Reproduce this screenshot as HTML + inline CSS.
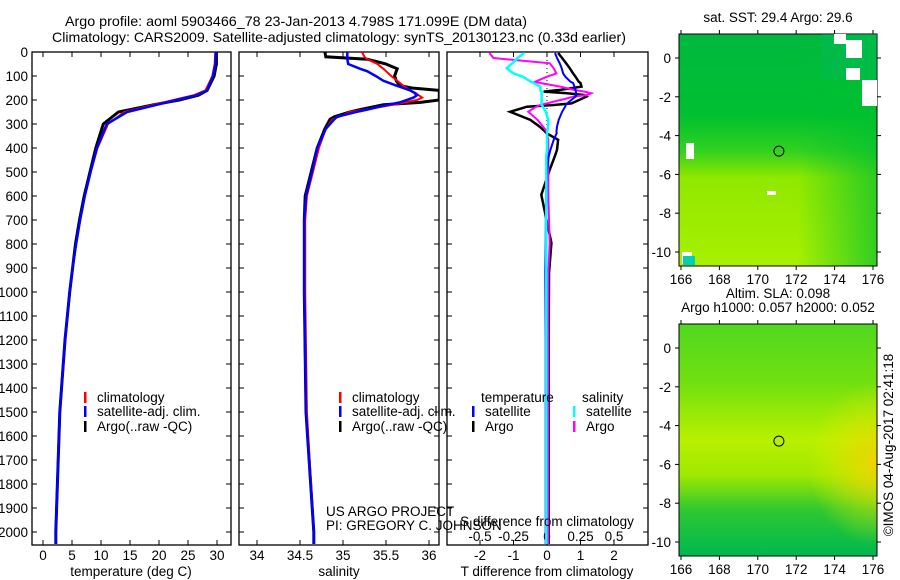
<!DOCTYPE html>
<html><head><meta charset="utf-8"><style>
body{margin:0;background:#fff;}
svg{display:block;font-family:"Liberation Sans",sans-serif;}
</style></head><body>
<svg id="c" width="900" height="580">
<defs>
<linearGradient id="sstg" x1="0" y1="0" x2="0" y2="1">
<stop offset="0" stop-color="#00b840"/><stop offset="0.35" stop-color="#00c030"/><stop offset="0.5" stop-color="#30d020"/><stop offset="0.62" stop-color="#90e800"/><stop offset="1" stop-color="#a8f000"/></linearGradient>
<linearGradient id="sstr" x1="0" y1="0" x2="1" y2="0">
<stop offset="0" stop-color="#00c030" stop-opacity="0"/><stop offset="0.6" stop-color="#00c030" stop-opacity="0"/><stop offset="1" stop-color="#00c030" stop-opacity="0.7"/></linearGradient>
<linearGradient id="slag" x1="0" y1="0" x2="0" y2="1">
<stop offset="0" stop-color="#50d820"/><stop offset="0.25" stop-color="#70e010"/><stop offset="0.5" stop-color="#b8f000"/><stop offset="0.65" stop-color="#a0e800"/><stop offset="0.8" stop-color="#30c830"/><stop offset="1" stop-color="#00b850"/></linearGradient>
<radialGradient id="slaor" cx="1" cy="0.6" r="0.35"><stop offset="0" stop-color="#f0d000"/><stop offset="1" stop-color="#e0f000" stop-opacity="0"/></radialGradient>
</defs>
<g id="g"></g>
</svg>
<script>
// ----- data -----
const depthsT = [0,50,100,160,180,200,220,250,300,400,500,600,700,800,900,1000,1200,1500,2000,2050];
const tempClim = [29.7,29.6,29.2,28.0,26.0,22.5,19.0,14.0,11.2,9.4,8.2,7.2,6.4,5.7,5.1,4.6,3.8,2.9,2.2,2.2];
const tempSat  = [29.8,29.7,29.3,28.3,26.5,23.0,19.6,14.5,11.0,9.3,8.2,7.2,6.4,5.7,5.1,4.6,3.8,2.9,2.2,2.2];
const tempArgo = [29.9,29.9,29.5,28.3,26.8,23.5,19.0,13.0,10.4,9.1,8.1,7.1,6.3,5.6,5.1,4.6,3.8,2.9,2.2,2.2];
const depthsS = [0,20,30,50,70,80,100,120,140,150,160,170,180,190,200,210,220,240,250,270,280,300,320,400,500,600,700,1000,1500,2000,2050];
const salClim = [35.22,35.25,35.28,35.40,35.47,35.50,35.56,35.63,35.70,35.74,35.78,35.84,35.88,35.92,35.86,35.72,35.58,35.25,35.08,34.95,34.88,34.84,34.80,34.72,34.65,34.58,34.56,34.56,34.58,34.66,34.66];
const salSat  = [35.05,35.05,35.05,35.06,35.20,35.28,35.38,35.47,35.62,35.70,35.78,35.83,35.86,35.82,35.74,35.66,35.52,35.28,35.15,34.93,34.90,34.85,34.80,34.70,34.64,34.57,34.55,34.55,34.57,34.66,34.66];
const salArgo = [34.79,34.80,35.28,35.50,35.63,35.62,35.60,35.62,35.66,35.80,36.12,36.12,36.12,36.12,36.12,35.90,35.47,35.20,35.08,34.90,34.85,34.82,34.79,34.70,34.63,34.56,34.55,34.55,34.57,34.66,34.66];
const depthsD = [4,25,47,68,89,103,124,129,144,158,165,172,179,186,214,221,228,249,283,311,332,338,366,408,436,491,595,796,921,1200,1500,2050];
const dTSat  = [0.24,0.30,0.38,0.44,0.48,0.55,0.70,0.78,0.82,0.85,0.86,0.87,0.88,0.85,0.60,0.56,0.54,0.45,0.35,0.30,0.28,0.29,0.20,0.10,0.05,0,-0.03,-0.04,-0.05,-0.04,-0.04,-0.04];
const dTArgo = [0.33,0.45,0.57,0.68,0.78,0.85,0.95,1.0,1.03,0.4,-0.1,0.6,1.1,1.18,0.73,0.2,-0.6,-1.1,-0.5,-0.22,-0.05,-0.02,0.33,0.30,0.23,0.08,-0.17,0.13,0.06,0.05,0.05,0.05];
const dSArgo = [-0.43,-0.40,0.02,0.05,0.07,0.0,-0.09,-0.05,0.1,0.2,0.28,0.33,0.3,0.2,0.0,-0.05,-0.08,-0.14,-0.07,-0.03,0,0,0.01,0.01,0.01,0.01,0.01,0.02,0.01,0.01,0.01,0.01];
const dSSat  = [-0.17,-0.22,-0.26,-0.30,-0.25,-0.18,-0.12,-0.10,-0.05,-0.05,-0.04,-0.04,-0.04,-0.04,-0.04,-0.04,-0.03,-0.01,0.01,0.01,0,0,0,0,-0.005,-0.005,-0.005,-0.005,-0.005,-0.005,-0.005,-0.005];
const depthTicks = [0,100,200,300,400,500,600,700,800,900,1000,1100,1200,1300,1400,1500,1600,1700,1800,1900,2000];
const tempTicks = [0,5,10,15,20,25,30];
const salTicks = [34,34.5,35,35.5,36];
const dTTicks = [-2,-1,0,1,2];
const dSTicks = [-0.5,-0.25,0,0.25,0.5];
const dSTickLabels = ['-0.5','-0.25','0','0.25','0.5'];
const lonTicks = [166,168,170,172,174,176];
const latTicks = [0,-2,-4,-6,-8,-10];

// ----- axes -----
const yD = d => 52 + d*0.24;
const xT = t => 43 + 5.8*t;
const xS = s => 257 + 86*(s-34);
const xdT = t => 547 + 33.5*t;
const xdS = s => 547 + 134*s;
const NS='http://www.w3.org/2000/svg';
const G=document.getElementById('g');
const FS=13.5;
function el(tag,attrs,parent){const e=document.createElementNS(NS,tag);for(const k in attrs)e.setAttribute(k,attrs[k]);(parent||G).appendChild(e);return e;}
function txt(x,y,s,anchor,size,name,extra){const t=el('text',Object.assign({x:x,y:y,'font-size':size||FS,'text-anchor':anchor||'start',fill:'#000'},extra||{}));t.textContent=s;


return t;}
function line(xf,vals,depths,color,w,name,clipId){let p='';vals.forEach((v,i)=>{p+=(i?'L':'M')+xf(v).toFixed(1)+','+yD(depths[i]).toFixed(1);});
const e=el('path',{d:p,fill:'none',stroke:color,'stroke-width':w,'clip-path':'url(#'+clipId+')'});


return e;}

const panels=[{x0:32,x1:231,id:'p1'},{x0:239,x1:439,id:'p2'},{x0:447,x1:648,id:'p3'}];
const defs=document.querySelector('defs');
panels.forEach(p=>{const cp=el('clipPath',{id:'clip'+p.id},defs);el('rect',{x:p.x0,y:52,width:p.x1-p.x0,height:493},cp);
const r=el('rect',{x:p.x0,y:52,width:p.x1-p.x0,height:493,fill:'none',stroke:'#000','stroke-width':1.3});


depthTicks.forEach(d=>{el('line',{x1:p.x0,x2:p.x0+5,y1:yD(d),y2:yD(d),stroke:'#000'});el('line',{x1:p.x1,x2:p.x1-5,y1:yD(d),y2:yD(d),stroke:'#000'});});
});
depthTicks.forEach(d=>txt(28,yD(d)+5,String(d),'end',FS,'depth-tick-label'));
// temperature panel
tempTicks.forEach(t=>{el('line',{x1:xT(t),x2:xT(t),y1:52,y2:57,stroke:'#000'});el('line',{x1:xT(t),x2:xT(t),y1:545,y2:540,stroke:'#000'});txt(xT(t),560,String(t),'middle',FS,'temp-tick-label');});
txt(131,576,'temperature (deg C)','middle',FS,'x-axis-title-temperature');
line(xT,tempArgo,depthsT,'#000',3,'temp-argo-line','clipp1');
line(xT,tempClim,depthsT,'#f00',2,'temp-climatology-line','clipp1');
line(xT,tempSat,depthsT,'#00f',2.5,'temp-satellite-line','clipp1');
// salinity
salTicks.forEach(s=>{el('line',{x1:xS(s),x2:xS(s),y1:52,y2:57,stroke:'#000'});el('line',{x1:xS(s),x2:xS(s),y1:545,y2:540,stroke:'#000'});txt(xS(s),560,String(s),'middle',FS,'salinity-tick-label');});
txt(339,576,'salinity','middle',FS,'x-axis-title-salinity');
line(xS,salArgo,depthsS,'#000',3,'salinity-argo-line','clipp2');
line(xS,salClim,depthsS,'#f00',2,'salinity-climatology-line','clipp2');
line(xS,salSat,depthsS,'#00f',2.5,'salinity-satellite-line','clipp2');
// diff panel
el('line',{x1:547,x2:547,y1:52,y2:545,stroke:'#000','stroke-dasharray':'1,3'});
dTTicks.forEach(t=>{el('line',{x1:xdT(t),x2:xdT(t),y1:52,y2:57,stroke:'#000'});el('line',{x1:xdT(t),x2:xdT(t),y1:545,y2:540,stroke:'#000'});txt(xdT(t),560,String(t),'middle',FS,'t-diff-tick-label');});
dSTicks.forEach((s,i)=>txt(xdS(s),541,dSTickLabels[i],'middle',FS,'s-diff-tick-label'));
line(xdT,dTArgo,depthsD,'#000',2.5,'t-diff-argo-line','clipp3');
line(xdS,dSArgo,depthsD,'#f0f',2,'s-diff-argo-line','clipp3');
line(xdT,dTSat,depthsD,'#00f',2,'t-diff-satellite-line','clipp3');
line(xdS,dSSat,depthsD,'#0ff',2.5,'s-diff-satellite-line','clipp3');
txt(547,526,'S difference from climatology','middle',FS,'s-diff-axis-title');
txt(547,576,'T difference from climatology','middle',FS,'t-diff-axis-title');
// legends
function leg(x,y,color,label,name){el('rect',{x:x,y:y-10,width:2.5,height:11,fill:color});txt(x+13,y,label,'start',FS,name);}
leg(84,402,'#f00','climatology','legend-climatology');
leg(84,416,'#00f','satellite-adj. clim.','legend-satellite-adj');
leg(84,431,'#000','Argo(..raw -QC)','legend-argo');
leg(339,402,'#f00','climatology','legend-sal-climatology');
leg(339,416,'#00f','satellite-adj. clim.','legend-sal-satellite-adj');
leg(339,431,'#000','Argo(..raw -QC)','legend-sal-argo');
txt(481,402,'temperature','start',FS,'legend-temperature-header');
leg(472,416,'#00f','satellite','legend-t-satellite');
leg(472,431,'#000','Argo','legend-t-argo');
txt(582,402,'salinity','start',FS,'legend-salinity-header');
leg(573,416,'#0ff','satellite','legend-s-satellite');
leg(573,431,'#f0f','Argo','legend-s-argo');
txt(326,516,'US ARGO PROJECT','start',FS,'project-label');
txt(326,530,'PI: GREGORY C. JOHNSON','start',FS,'pi-label');
// titles
txt(65,26,'Argo profile: aoml 5903466_78 23-Jan-2013 4.798S 171.099E (DM data)','start',14,'title-line-1',{textLength:462,lengthAdjust:'spacingAndGlyphs'});
txt(52,42,'Climatology: CARS2009. Satellite-adjusted climatology: synTS_20130123.nc (0.33d earlier)','start',14,'title-line-2',{textLength:574,lengthAdjust:'spacingAndGlyphs'});

// ----- maps -----
const lonX = l => 681 + 19.2*(l-166);
function drawMap(top,bottom,lat0,fill,overlay,name,titles){
 const latY = a => lat0 - 19.4*a;
 const r=el('rect',{x:679,y:top,width:198,height:bottom-top,fill:fill});
 
 
 el('rect',{x:679,y:top,width:198,height:bottom-top,fill:overlay});
 el('rect',{x:679,y:top,width:198,height:bottom-top,fill:'none',stroke:'#000'});
 lonTicks.forEach(l=>{el('line',{x1:lonX(l),x2:lonX(l),y1:top,y2:top-4,stroke:'#000'});el('line',{x1:lonX(l),x2:lonX(l),y1:bottom,y2:bottom+4,stroke:'#000'});txt(lonX(l),bottom+18,String(l),'middle',FS,name+'-lon-label');});
 latTicks.forEach(a=>{el('line',{x1:679,x2:675,y1:latY(a),y2:latY(a),stroke:'#000'});el('line',{x1:877,x2:881,y1:latY(a),y2:latY(a),stroke:'#000'});txt(671,latY(a)+5,String(a),'end',FS,name+'-lat-label');});
 const c=el('circle',{cx:lonX(171.099),cy:latY(-4.798),r:5,fill:'none',stroke:'#000'});
 
 
 titles.forEach((t,i)=>txt(778,top-12-(titles.length-1-i)*14,t,'middle',FS,name+'-title'));
 return latY;
}
drawMap(34,266,58,'url(#sstg)','url(#sstr)','sst-map',['sat. SST: 29.4  Argo: 29.6']);
// land/missing patches in SST map
el('rect',{x:822,y:34,width:55,height:45,fill:'#00b868','opacity':0.35});
[[834,34,12,10],[846,40,16,18],[862,80,15,26],[846,68,14,12],[686,143,8,16],[767,191,9,4],[682,252,10,12]].forEach(b=>el('rect',{x:b[0],y:b[1],width:b[2],height:b[3],fill:'#fff'}));
el('rect',{x:683,y:256,width:12,height:9,fill:'#00d0b0'});
drawMap(324,556,348,'url(#slag)','url(#slaor)','sla-map',['Altim. SLA: 0.098','Argo h1000: 0.057 h2000: 0.052']);
const cr=txt(893,445,'©IMOS 04-Aug-2017 02:41:18','middle',FS,'copyright-label',{transform:'rotate(-90 893 445)'});
</script>
</body></html>
